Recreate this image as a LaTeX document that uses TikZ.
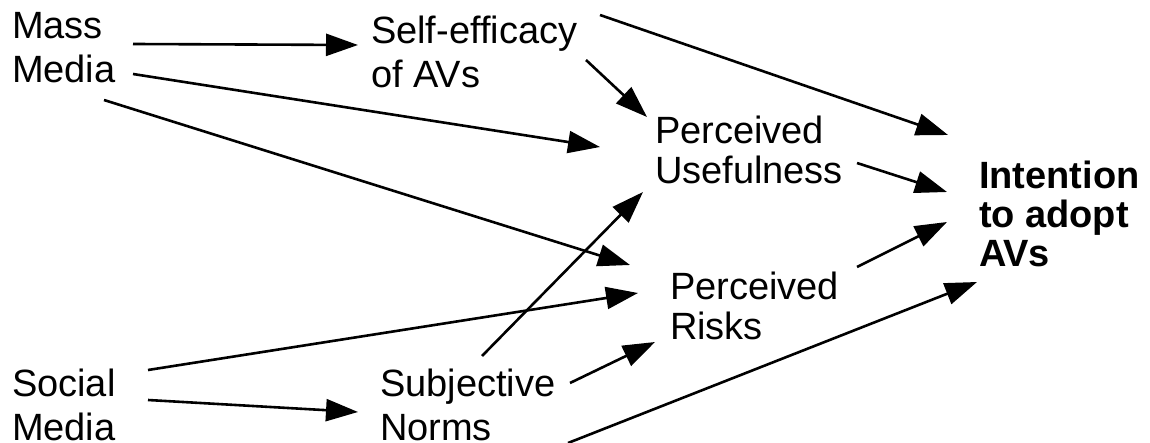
\documentclass[tikz,border=0pt]{standalone}
\usepackage{fontspec}
\setmainfont{Liberation Sans}
\usetikzlibrary{arrows.meta, calc}

\begin{document}
\begin{tikzpicture}[x=0.5pt,y=-0.5pt,
  lbl/.style={anchor=north west, inner sep=0pt, outer sep=0pt, align=left, font=\fontsize{19pt}{22pt}\selectfont},
  arr/.style={-{Triangle[length=16pt,width=11pt]}, line width=1.3pt}]
\useasboundingbox (0,0) rectangle (1150,443);
\node[lbl] (mass) at (12,12) {Mass\\Media};
\node[lbl] (self) at (371,16) {Self-efficacy\\of AVs};
\node[lbl, font=\fontsize{19pt}{20pt}\selectfont] (pu) at (655,116) {Perceived\\Usefulness};
\node[lbl, font=\fontsize{19pt}{19.5pt}\selectfont\bfseries] (intent) at (979,161) {Intention\\to adopt\\AVs};
\node[lbl, font=\fontsize{19pt}{20pt}\selectfont] (pr) at (670,272) {Perceived\\Risks};
\node[lbl] (social) at (12,369) {Social\\Media};
\node[lbl] (subj) at (380,369) {Subjective\\Norms};
% mass media
\draw[arr] ($(mass.north west)+(121,32)$) -- ($(self.north west)+(-13,29)$);
\draw[arr] ($(mass.north west)+(121,62)$) -- ($(pu.north west)+(-55,31)$);
\draw[arr] ($(mass.north west)+(92,88)$) -- ($(pr.north west)+(-40,-7)$);
% self-efficacy
\draw[arr] ($(self.north west)+(229,-1)$) -- ($(intent.north west)+(-31,-26)$);
\draw[arr] ($(self.north west)+(215,44)$) -- ($(pu.north west)+(-8,1)$);
% perceived usefulness, risks
\draw[arr] ($(pu.north west)+(202,47)$) -- ($(intent.north west)+(-32,31)$);
\draw[arr] ($(pr.north west)+(187,-5)$) -- ($(intent.north west)+(-32,61)$);
% social media
\draw[arr] ($(social.north west)+(136,1)$) -- ($(pr.north west)+(-32,21)$);
\draw[arr] ($(social.north west)+(136,31)$) -- ($(subj.north west)+(-22,43)$);
% subjective norms
\draw[arr] ($(subj.north west)+(102,-13)$) -- ($(pu.north west)+(-12,76)$);
\draw[arr] ($(subj.north west)+(190,14)$) -- ($(pr.north west)+(-15,70)$);
\draw[arr] ($(subj.north west)+(188,74)$) -- ($(intent.north west)+(-2,121)$);
\end{tikzpicture}
\end{document}
